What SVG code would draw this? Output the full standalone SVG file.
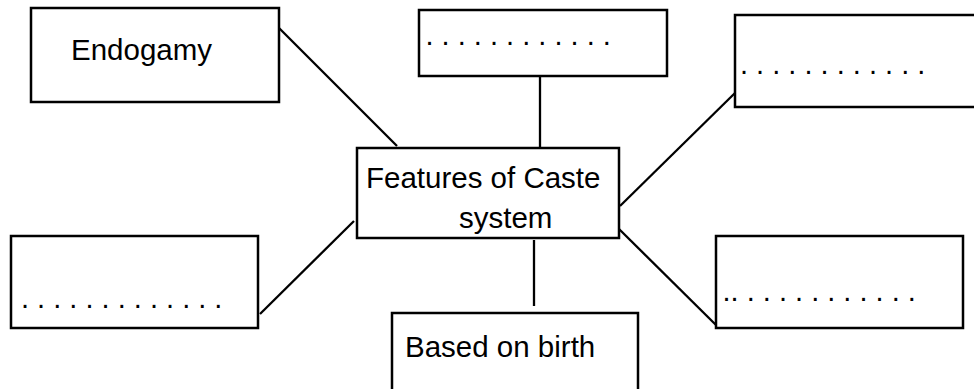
<svg xmlns="http://www.w3.org/2000/svg" width="974" height="389" viewBox="0 0 974 389">
  <style>
    .box { fill: #ffffff; stroke: #000000; stroke-width: 2.5; }
    .link { stroke: #000000; stroke-width: 2.3; fill: none; }
    .label { font-family: "Liberation Sans", Arial, sans-serif; font-size: 29.5px; fill: #000000; }
    .dots { font-family: "Liberation Sans", Arial, sans-serif; font-size: 29px; fill: #000000; }
  </style>
  <rect width="974" height="389" fill="#ffffff"/>

  <!-- connectors from the central node -->
  <g id="connectors">
    <line class="link" x1="279" y1="28" x2="397" y2="146"/>
    <line class="link" x1="540" y1="76" x2="540" y2="148"/>
    <line class="link" x1="735" y1="93" x2="620" y2="206"/>
    <line class="link" x1="354" y1="221" x2="260" y2="314"/>
    <line class="link" x1="534" y1="240" x2="534" y2="306"/>
    <line class="link" x1="618" y1="228" x2="716" y2="325"/>
  </g>

  <g id="center">
    <rect class="box" x="357" y="148" width="262" height="90"/>
    <text class="label" x="366" y="188">Features of Caste</text>
    <text class="label" x="459" y="228">system</text>
  </g>

  <g id="endogamy">
    <rect class="box" x="31" y="8" width="248" height="94"/>
    <text class="label" x="71" y="60">Endogamy</text>
  </g>

  <g id="top-blank">
    <rect class="box" x="419" y="10" width="248" height="66"/>
    <text class="dots" x="425.5" y="45">. . . . . . . . . . . .</text>
  </g>

  <g id="right-blank">
    <rect class="box" x="735" y="15" width="250" height="92"/>
    <text class="dots" x="740" y="74">. . . . . . . . . . . .</text>
  </g>

  <g id="left-blank">
    <rect class="box" x="11" y="236" width="247" height="92"/>
    <text class="dots" x="21" y="308">. . . . . . . . . . . . .</text>
  </g>

  <g id="birth">
    <rect class="box" x="392" y="313" width="246" height="90"/>
    <text class="label" x="405" y="357">Based on birth</text>
  </g>

  <g id="lower-right-blank">
    <rect class="box" x="716" y="236" width="247" height="92"/>
    <text class="dots" x="722.5" y="301">.. . . . . . . . . . . .</text>
  </g>
</svg>
